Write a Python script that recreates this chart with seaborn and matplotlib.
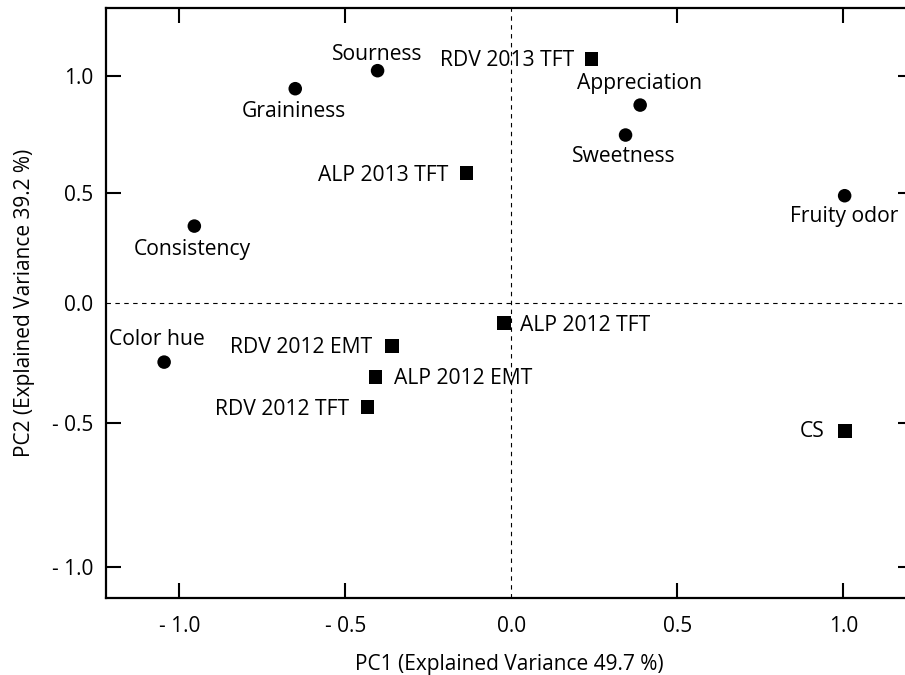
import numpy as np
import pandas as pd
import matplotlib
matplotlib.use('Agg')
import matplotlib.pyplot as plt
import seaborn as sns

# sensory attributes (circles)
attributes = ['Sourness', 'Graininess', 'Consistency', 'Color hue',
              'Appreciation', 'Sweetness', 'Fruity odor']
attr_pc1 = [-0.403, -0.651, -0.955, -1.046, 0.388, 0.344, 1.004]
attr_pc2 = [1.024, 0.947, 0.351, -0.245, 0.877, 0.749, 0.489]

# samples (squares)
samples = ['RDV 2013 TFT', 'ALP 2013 TFT', 'ALP 2012 TFT', 'RDV 2012 EMT',
           'ALP 2012 EMT', 'RDV 2012 TFT', 'CS']
sample_pc1 = [0.242, -0.135, -0.022, -0.360, -0.409, -0.433, 1.005]
sample_pc2 = [1.073, 0.587, -0.083, -0.178, -0.306, -0.433, -0.526]

tick_vals = [-1.0, -0.5, 0.0, 0.5, 1.0]
tick_labels = ['- 1.0', '- 0.5', '0.0', '0.5', '1.0']

df = pd.concat([
    pd.DataFrame({'name': attributes, 'pc1': attr_pc1, 'pc2': attr_pc2, 'kind': 'attribute'}),
    pd.DataFrame({'name': samples, 'pc1': sample_pc1, 'pc2': sample_pc2, 'kind': 'sample'}),
], ignore_index=True)

# label placement: (dx, dy) in points, ha
label_pos = {
    'Sourness': (0, 7.7, 'center'),
    'Graininess': (-1, -20.6, 'center'),
    'Consistency': (-1.3, -20.9, 'center'),
    'Color hue': (-5.5, 12.2, 'center'),
    'Appreciation': (-0.7, 11.3, 'center'),
    'Sweetness': (-1.4, -19.2, 'center'),
    'Fruity odor': (0, -18.7, 'center'),
    'RDV 2013 TFT': (-12.7, -4.6, 'right'),
    'ALP 2013 TFT': (-13, -5.6, 'right'),
    'ALP 2012 TFT': (11.3, -5.5, 'left'),
    'RDV 2012 EMT': (-14.1, -5.3, 'right'),
    'ALP 2012 EMT': (13.3, -5.3, 'left'),
    'RDV 2012 TFT': (-13.3, -5.5, 'right'),
    'CS': (-15.1, -4.8, 'right'),
}

sns.set_style('ticks')
plt.rcParams['font.family'] = ['Open Sans', 'DejaVu Sans']
plt.rcParams['text.color'] = 'black'
plt.rcParams['axes.labelcolor'] = 'black'
plt.rcParams['xtick.color'] = 'black'
plt.rcParams['ytick.color'] = 'black'

fig = plt.figure(figsize=(9.05, 6.75), dpi=100)
ax = fig.add_axes([105.7 / 905, 76.7 / 675, 807 / 905, 590 / 675])

# y axis in the original is not evenly spaced -> piecewise scale through the tick positions
y_vals = [-3.0, -1.0, -0.5, 0.0, 0.5, 1.0, 3.0]
y_pos = [-545, 31, 175, 295, 405, 522, 990]
ax.set_yscale('function', functions=(lambda v: np.interp(v, y_vals, y_pos),
                                     lambda p: np.interp(p, y_pos, y_vals)))

sns.scatterplot(data=df, x='pc1', y='pc2', style='kind',
                markers={'attribute': 'o', 'sample': 's'},
                color='black', edgecolor='black', linewidth=0, s=95,
                legend=False, ax=ax, zorder=3)

for _, row in df.iterrows():
    dx, dy, ha = label_pos[row['name']]
    ax.annotate(row['name'], (row['pc1'], row['pc2']), xytext=(dx, dy),
                textcoords='offset points', ha=ha, va='baseline', fontsize=15.2,
                color='black')

ax.axhline(0, color='black', lw=0.8, ls=(0, (4, 4)), zorder=1)
ax.axvline(0, color='black', lw=0.8, ls=(0, (4, 4)), zorder=1)

ax.set_xlim(-1.222, 1.209)
ax.set_ylim(-1.1076, 1.2906)
ax.set_xticks(tick_vals)
ax.set_xticklabels(tick_labels)
ax.set_yticks(tick_vals)
ax.set_yticklabels(tick_labels)
ax.minorticks_off()
ax.tick_params(direction='in', length=10.8, width=1.5, top=True, right=True,
               labelsize=15, color='black', labelcolor='black')
ax.tick_params(axis='x', pad=13)
ax.tick_params(axis='y', pad=9)
for t in (ax.xaxis.get_major_ticks()[2], ax.yaxis.get_major_ticks()[2]):
    t.tick1line.set_visible(False)
    t.tick2line.set_visible(False)
for sp in ax.spines.values():
    sp.set_linewidth(1.6)
    sp.set_color('black')

ax.set_xlabel('PC1 (Explained Variance 49.7 %)', fontsize=15, labelpad=12)
ax.set_ylabel('PC2 (Explained Variance 39.2 %)', fontsize=15, labelpad=12)

fig.savefig('out.png', dpi=100)
